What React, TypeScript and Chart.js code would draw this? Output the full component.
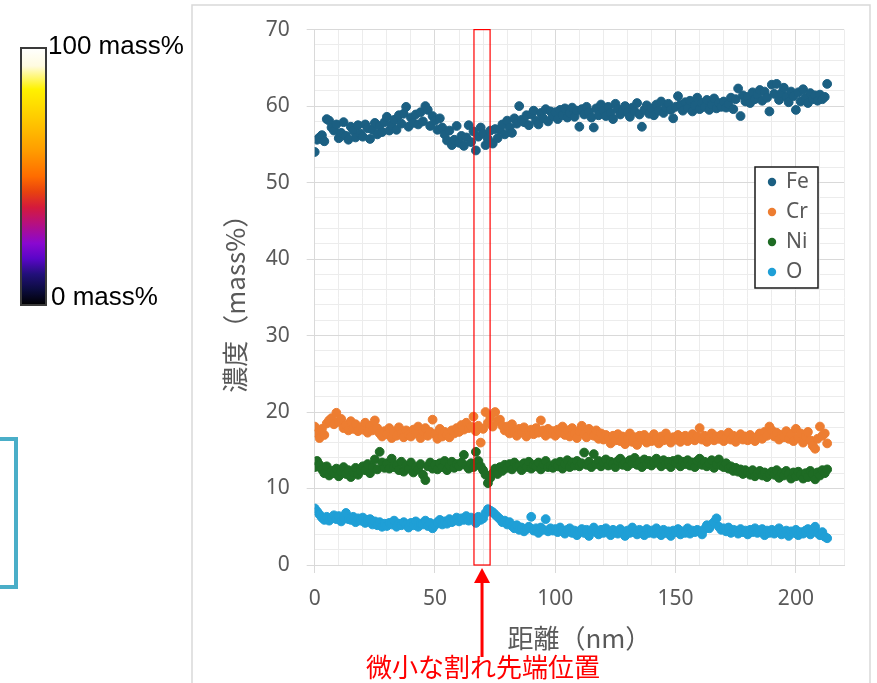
import React, { useEffect, useRef } from "react";
import { Chart, registerables } from "chart.js";

Chart.register(...registerables);

// sampling positions along the line profile (nm)
const distanceNm: number[] = Array.from({ length: 214 }, (_, i) => i);

const feValues = [
  54.0, 55.6, 55.9, 56.2, 55.4, 58.3, 58.1, 57.2, 56.8, 57.6,
  55.8, 56.5, 57.9, 56.1, 55.6, 57.3, 56.8, 55.9, 57.5, 56.4,
  56.0, 57.6, 57.1, 55.7, 56.9, 57.8, 56.3, 57.4, 56.6, 57.9,
  58.6, 56.8, 57.5, 58.2, 56.9, 58.8, 57.7, 59.0, 59.9, 57.3,
  58.5, 57.8, 58.9, 57.6, 59.2, 58.0, 60.0, 59.5, 57.4, 58.7,
  58.1, 56.9, 58.4, 57.2, 56.3, 55.5, 56.8, 54.9, 55.6, 57.4,
  55.2, 56.1, 54.8, 55.9, 57.5, 55.3, 56.7, 54.2, 56.0, 57.2,
  56.4, 54.9, 55.7, 56.8, 55.1, 57.0, 55.8, 56.9, 57.6, 56.3,
  58.1, 57.2, 56.5, 58.4, 57.7, 60.0, 58.2, 57.9, 58.8, 57.5,
  58.9, 59.4, 58.1, 57.6, 59.1, 58.4, 59.6, 58.0, 59.3, 58.7,
  59.2, 58.3, 59.5, 58.8, 59.7, 58.5, 59.1, 59.8, 58.6, 59.4,
  57.3, 59.6, 58.9, 59.9, 59.2, 58.5, 57.2, 59.7, 58.8, 60.2,
  59.4, 58.7, 59.9, 59.1, 58.3, 60.3, 59.6, 58.9, 59.4, 60.0,
  59.2, 58.6, 59.8, 59.3, 60.4, 58.9, 57.3, 59.5, 60.1, 59.0,
  59.7, 58.8, 60.2, 59.4, 60.6, 59.1, 59.8, 60.3, 59.5, 58.4,
  59.9, 61.3, 60.2, 59.4, 60.5, 59.8, 60.7, 59.3, 60.1, 61.1,
  59.6, 60.4, 59.9, 60.8, 59.5, 60.2, 61.0, 59.7, 60.4, 59.9,
  60.6, 59.8, 60.3, 61.1, 59.6, 60.9, 62.3, 58.7, 61.4, 60.6,
  61.2, 60.4, 61.8, 60.9, 61.5, 62.1, 60.7, 61.9, 61.1, 59.3,
  62.8, 61.6, 62.9, 60.8, 61.7, 62.4, 61.2, 60.5, 61.9, 61.3,
  59.5, 61.8, 60.6, 62.2, 61.1, 60.4, 61.7, 60.9, 61.4, 60.7,
  61.5, 60.9, 61.2, 62.9,
];

const crValues = [
  18.1, 17.2, 16.6, 17.8, 17.0, 18.5, 18.9, 19.2, 18.4, 19.9,
  18.7, 19.1, 17.9, 18.3, 17.6, 18.8, 17.8, 18.4, 17.5, 18.0,
  17.7, 18.6, 17.3, 18.2, 17.6, 18.9, 17.9, 17.2, 16.8, 17.5,
  17.1, 17.9, 16.6, 17.4, 16.9, 18.0, 17.2, 16.7, 17.6, 17.0,
  16.8, 17.7, 17.2, 18.1, 16.6, 17.5, 17.9, 16.9, 17.4, 19.0,
  17.1, 16.5, 17.8, 16.8, 17.4, 17.0, 16.7, 17.6, 17.2, 17.9,
  17.4, 18.3, 17.7, 18.6, 17.9, 18.1, 19.4, 17.5, 18.2, 16.0,
  17.8, 20.0, 18.6, 19.3, 18.1, 20.0, 18.8, 19.0, 18.2, 17.6,
  18.1, 17.2, 18.4, 17.4, 16.9, 17.8, 17.3, 18.0, 16.8, 17.5,
  17.7, 17.1, 17.9, 17.3, 18.9, 17.6, 16.9, 17.8, 17.2, 17.5,
  16.9, 17.7, 17.3, 18.1, 17.0, 17.6, 16.8, 17.9, 17.2, 16.6,
  17.5, 18.2, 17.1, 16.7, 17.8, 17.3, 16.9, 17.6, 16.5, 17.2,
  16.4, 17.0, 16.7, 15.9, 16.9, 16.3, 17.1, 16.2, 16.8, 15.8,
  16.6, 17.2, 16.1, 16.7, 15.7, 16.9, 16.4, 17.0, 16.0, 16.6,
  16.2, 17.1, 16.5, 15.9, 16.8, 16.3, 17.2, 16.6, 16.0, 16.7,
  16.4, 17.0, 16.1, 16.7, 16.9, 16.2, 16.5, 17.1, 16.3, 16.8,
  17.9, 16.4, 16.9, 16.1, 16.6, 17.2, 16.3, 16.8, 16.5, 17.0,
  16.2, 16.7, 17.3, 16.4, 16.9, 16.1, 16.6, 17.1, 16.4, 16.8,
  16.3, 17.0, 16.6, 16.2, 16.8, 17.2, 16.5, 17.4, 16.9, 18.1,
  17.6, 16.8, 17.3, 16.4, 17.0, 16.7, 17.5, 16.5, 17.1, 16.2,
  17.8, 16.6, 17.2, 16.0, 16.8, 17.4, 16.3, 15.6, 15.2, 16.5,
  18.1, 16.9, 17.2, 15.9,
];

const niValues = [
  12.8, 13.6, 13.1, 12.5, 12.0, 12.9, 11.7, 12.3, 12.0, 12.6,
  11.6, 12.2, 12.8, 11.9, 12.4, 11.5, 12.1, 12.7, 11.8, 12.3,
  12.9, 12.4, 13.2, 12.0, 12.8, 13.8, 12.5, 14.8, 13.4, 12.7,
  13.3, 12.6, 13.9, 12.8, 13.1, 12.4, 13.5, 12.2, 13.0, 12.6,
  13.4, 12.1, 12.8, 12.5, 13.2, 11.8, 11.1, 12.9, 13.4, 12.6,
  13.1, 12.5, 13.3, 12.8, 13.6, 12.4, 13.0, 13.5, 12.7, 13.2,
  12.9, 13.4, 14.4, 13.0, 12.6, 13.3, 12.8, 14.8, 13.6, 12.9,
  12.4, 11.8, 10.7, 11.4, 12.0, 12.6, 11.9, 12.8, 12.3, 13.1,
  12.7, 13.2, 12.5, 13.4, 12.9, 13.0, 12.4, 13.3, 12.8, 13.5,
  12.6, 13.1, 12.9, 13.4, 12.5, 13.2, 13.6, 12.8, 13.0, 12.7,
  13.3, 12.9, 13.5, 12.6, 13.2, 13.7, 12.8, 13.4, 13.0, 13.6,
  12.9, 13.3, 14.7, 13.1, 13.5, 12.8, 14.5, 13.2, 13.6, 12.9,
  13.4, 13.8, 13.0, 13.5, 13.2, 12.8, 13.6, 13.9, 13.1, 13.4,
  12.9, 13.7, 13.3, 14.0, 13.1, 13.5, 12.8, 13.8, 13.2, 13.6,
  13.0, 13.4, 13.9, 13.3, 12.9, 13.7, 13.2, 13.5, 12.8, 13.6,
  13.3, 13.8, 12.9, 13.5, 13.2, 13.7, 13.0, 13.4, 12.8, 13.6,
  13.9, 13.1, 13.5, 12.9, 13.3, 13.7, 12.7, 13.2, 13.8, 13.0,
  12.8, 13.3, 12.6, 12.9, 12.3, 12.7, 12.2, 12.5, 11.9, 12.4,
  12.1, 11.8, 12.4, 11.6, 12.0, 12.3, 11.7, 12.1, 11.5, 11.9,
  12.2, 11.8, 12.4, 11.4, 12.0, 11.7, 12.3, 11.9, 11.3, 12.1,
  11.6, 12.2, 11.8, 11.3, 12.0, 11.5, 12.3, 11.9, 11.2, 12.1,
  11.7, 12.4, 12.0, 12.5,
];

const oValues = [
  7.4, 7.0, 6.6, 6.2, 5.9, 6.3, 5.8, 6.1, 6.5, 6.0,
  6.4, 5.7, 6.2, 6.8, 6.0, 5.9, 6.3, 5.6, 6.1, 5.8,
  6.2, 5.5, 5.9, 6.0, 5.3, 5.7, 5.2, 5.6, 5.0, 5.4,
  5.1, 5.5, 5.3, 5.8, 5.0, 5.4, 5.2, 5.6, 5.3, 4.9,
  5.5, 5.2, 5.7, 5.0, 5.4, 5.3, 5.8, 5.1, 5.5, 4.8,
  5.2, 5.6, 5.9, 5.3, 5.7, 5.4, 6.0, 5.6, 5.8, 6.2,
  5.7, 6.1, 5.9, 6.4, 5.8, 6.2, 6.0, 5.5, 6.3, 5.9,
  6.1, 6.8, 7.3, 7.1, 6.9, 6.6, 6.3, 6.0, 5.6, 5.8,
  5.3, 5.6, 5.1, 4.8, 5.2, 4.6, 4.9, 4.4, 4.7, 5.0,
  6.3, 4.5, 4.8, 4.2, 4.9, 4.6, 6.0, 4.4, 4.8, 4.5,
  4.7, 4.3, 4.9, 4.5, 4.1, 4.6, 4.8, 4.2, 4.5, 3.9,
  4.4, 4.7, 4.2, 4.6, 3.8, 4.5, 4.9, 4.3, 4.0, 4.6,
  4.2, 4.8, 4.4, 3.9, 4.6, 4.3, 4.1, 4.7, 4.4, 3.8,
  4.5, 4.2, 4.9, 4.3, 4.0, 4.6, 4.4, 3.9, 4.7, 4.2,
  4.5, 4.1, 4.8, 4.3, 3.9, 4.6, 4.2, 4.4, 3.8, 4.5,
  4.3, 4.7, 4.0, 4.4, 4.2, 4.8, 4.1, 4.5, 4.3, 4.6,
  4.4, 4.0, 4.7, 5.2, 4.8, 5.3, 5.6, 6.1, 5.0, 4.6,
  4.8, 4.4, 4.9, 4.2, 4.6, 4.5, 4.1, 4.7, 4.3, 4.5,
  4.0, 4.6, 4.3, 4.8, 4.2, 4.4, 4.7, 3.9, 4.5, 4.2,
  4.6, 4.1, 4.4, 4.8, 4.0, 4.3, 4.5, 3.8, 4.4, 4.2,
  4.6, 3.9, 4.3, 4.1, 4.5, 4.7, 4.0, 4.4, 5.0, 4.2,
  3.9, 4.3, 3.7, 3.5,
];

const seriesLabels = ["Fe", "Cr", "Ni", "O"];
const seriesColors = ["#1b5f82", "#ed7d31", "#1e6b24", "#1f9fd6"];
const seriesValues = [feValues, crValues, niValues, oValues];

const xTitle = "距離（nm）";
const yTitle = "濃度（mass%）";
const crackLabel = "微小な割れ先端位置";
const crackRangeNm = [66.2, 72.9];
const colorbarTop = "100 mass%";
const colorbarBottom = "0 mass%";

const X_MIN = 0, X_MAX = 220, X_MINOR = 10, X_MAJOR = 50;
const Y_MIN = 0, Y_MAX = 70, Y_MINOR = 2, Y_MAJOR = 10;

const TEXT_GRAY = "#595959";
const GRID_MAJOR = "#d9d9d9";
const GRID_MINOR = "#ececec";
const NUM_FONT = "'Noto Sans', 'DejaVu Sans', sans-serif";
const CJK_FONT = "'Noto Sans CJK JP', 'Noto Sans', sans-serif";

const overlayPlugin = {
  id: "overlay",
  beforeDraw(chart: any) {
    const ctx = chart.ctx as CanvasRenderingContext2D;
    ctx.save();
    ctx.fillStyle = "#ffffff";
    ctx.fillRect(0, 0, chart.width, chart.height);
    // outer chart frame
    ctx.strokeStyle = "#d9d9d9";
    ctx.lineWidth = 1.5;
    ctx.strokeRect(192, 5, 678, 720);
    ctx.restore();
  },
  afterDraw(chart: any) {
    const ctx = chart.ctx as CanvasRenderingContext2D;
    const xs = chart.scales.x;
    const area = chart.chartArea;
    ctx.save();

    // colour bar
    const cbX = 21, cbY = 48, cbW = 25, cbH = 257;
    const g = ctx.createLinearGradient(0, cbY, 0, cbY + cbH);
    g.addColorStop(0, "#ffffff");
    g.addColorStop(0.07, "#fffbe0");
    g.addColorStop(0.16, "#fff200");
    g.addColorStop(0.27, "#ffcc00");
    g.addColorStop(0.4, "#ff9c00");
    g.addColorStop(0.5, "#ff6c00");
    g.addColorStop(0.56, "#e8420f");
    g.addColorStop(0.62, "#d41a3c");
    g.addColorStop(0.68, "#b8107c");
    g.addColorStop(0.76, "#8a08d0");
    g.addColorStop(0.82, "#5a06c8");
    g.addColorStop(0.88, "#22107a");
    g.addColorStop(0.94, "#0c0c40");
    g.addColorStop(1, "#000000");
    ctx.fillStyle = g;
    ctx.fillRect(cbX, cbY, cbW, cbH);
    ctx.strokeStyle = "#3a3a3a";
    ctx.lineWidth = 2;
    ctx.strokeRect(cbX, cbY, cbW, cbH);
    ctx.fillStyle = "#000000";
    ctx.font = "26px 'Liberation Sans', Arial, sans-serif";
    ctx.textAlign = "left";
    ctx.textBaseline = "alphabetic";
    ctx.fillText(colorbarTop, 48, 54);
    ctx.fillText(colorbarBottom, 51, 305);

    // cropped blue frame at left
    ctx.strokeStyle = "#4aaec8";
    ctx.lineWidth = 4;
    ctx.beginPath();
    ctx.moveTo(-5, 439);
    ctx.lineTo(16, 439);
    ctx.lineTo(16, 587);
    ctx.lineTo(-5, 587);
    ctx.stroke();

    // legend
    const lx = 755, ly = 167, lw = 63, lh = 121;
    ctx.fillStyle = "#ffffff";
    ctx.fillRect(lx, ly, lw, lh);
    ctx.strokeStyle = "#1a1a1a";
    ctx.lineWidth = 1.5;
    ctx.strokeRect(lx, ly, lw, lh);
    ctx.font = `21px ${NUM_FONT}`;
    ctx.textBaseline = "middle";
    chart.data.datasets.forEach((ds: any, i: number) => {
      const cy = 182 + i * 30;
      ctx.fillStyle = ds.backgroundColor;
      ctx.beginPath();
      ctx.arc(772, cy, 4.2, 0, Math.PI * 2);
      ctx.fill();
      ctx.fillStyle = TEXT_GRAY;
      ctx.fillText(ds.label, 786, cy);
    });

    // crack tip marker
    const x0 = xs.getPixelForValue(crackRangeNm[0]);
    const x1 = xs.getPixelForValue(crackRangeNm[1]);
    ctx.strokeStyle = "#ff0000";
    ctx.lineWidth = 1.2;
    ctx.strokeRect(x0, area.top, x1 - x0, area.bottom - area.top);
    const xm = (x0 + x1) / 2;
    ctx.fillStyle = "#ff0000";
    ctx.beginPath();
    ctx.moveTo(xm, area.bottom + 3);
    ctx.lineTo(xm - 8, area.bottom + 18);
    ctx.lineTo(xm + 8, area.bottom + 18);
    ctx.closePath();
    ctx.fill();
    ctx.fillRect(xm - 1.5, area.bottom + 17, 3, 75);
    ctx.font = `26px ${CJK_FONT}`;
    ctx.textAlign = "center";
    ctx.textBaseline = "middle";
    ctx.fillText(crackLabel, xm + 1, 667);

    ctx.restore();
  },
};

export default function App() {
  const canvasRef = useRef<HTMLCanvasElement | null>(null);

  useEffect(() => {
    const canvas = canvasRef.current;
    if (!canvas) return;
    const datasets = seriesLabels.map((label, i) => ({
      label,
      data: distanceNm.map((x, j) => ({ x, y: seriesValues[i][j] })),
      backgroundColor: seriesColors[i],
      borderColor: seriesColors[i],
      borderWidth: 1,
      pointRadius: 4.4,
      pointHoverRadius: 4.4,
      showLine: false,
    }));

    const chart = new Chart(canvas, {
      type: "scatter",
      data: { datasets },
      options: {
        responsive: false,
        animation: false,
        devicePixelRatio: 1,
        layout: { padding: { left: 200, right: 33, top: 29, bottom: 0 } },
        plugins: {
          legend: { display: false },
          tooltip: { enabled: false },
          title: { display: false },
        },
        scales: {
          x: {
            type: "linear",
            min: X_MIN,
            max: X_MAX,
            afterFit: (s: any) => { s.height = 118; },
            ticks: {
              stepSize: X_MINOR,
              autoSkip: false,
              maxRotation: 0,
              padding: 13,
              color: TEXT_GRAY,
              font: { family: NUM_FONT, size: 21 },
              callback: (v: any) => (Number(v) % X_MAJOR === 0 ? String(v) : ""),
            },
            grid: {
              color: (c: any) => (c.tick && c.tick.value % X_MAJOR === 0 ? GRID_MAJOR : GRID_MINOR),
              tickColor: (c: any) => (c.tick && c.tick.value % X_MAJOR === 0 ? GRID_MAJOR : "rgba(0,0,0,0)"),
              tickLength: 8,
              lineWidth: 1,
            },
            border: { display: true, color: GRID_MAJOR, width: 1 },
            title: {
              display: true,
              text: xTitle,
              color: TEXT_GRAY,
              font: { family: CJK_FONT, size: 26 },
              padding: { top: 0, bottom: 29 },
            },
          },
          y: {
            type: "linear",
            min: Y_MIN,
            max: Y_MAX,
            afterFit: (s: any) => { s.width = 114.7; },
            ticks: {
              stepSize: Y_MINOR,
              autoSkip: false,
              padding: 17,
              color: TEXT_GRAY,
              font: { family: NUM_FONT, size: 21 },
              callback: (v: any) => (Number(v) % Y_MAJOR === 0 ? String(v) : ""),
            },
            grid: {
              color: (c: any) => (c.tick && c.tick.value % Y_MAJOR === 0 ? GRID_MAJOR : GRID_MINOR),
              tickColor: (c: any) => (c.tick && c.tick.value % Y_MAJOR === 0 ? GRID_MAJOR : "rgba(0,0,0,0)"),
              tickLength: 8,
              lineWidth: 1,
            },
            border: { display: true, color: GRID_MAJOR, width: 1 },
            title: {
              display: true,
              text: yTitle,
              color: TEXT_GRAY,
              font: { family: CJK_FONT, size: 26 },
              padding: { top: 20, bottom: 0 },
            },
          },
        },
      },
      plugins: [overlayPlugin],
    });
    return () => chart.destroy();
  }, []);

  return (
    <div style={{ position: "fixed", left: 0, top: 0, width: 877, height: 683, background: "#ffffff" }}>
      <canvas ref={canvasRef} width={877} height={683} style={{ display: "block", width: 877, height: 683 }} />
    </div>
  );
}
